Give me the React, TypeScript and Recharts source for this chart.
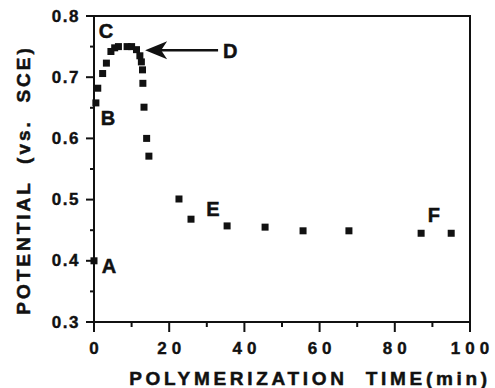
import {
  ScatterChart,
  Scatter,
  XAxis,
  YAxis,
  ReferenceArea,
  ReferenceLine,
  ReferenceDot,
} from "recharts";

const time = [
  0, 0.5, 1, 2.3, 3.3, 4.5, 5.5, 6.5, 8.8, 10, 11.3, 12.2, 12.6, 12.9, 13,
  13.3, 14, 14.6, 22.6, 25.8, 35.4, 45.5, 55.6, 67.8, 87, 95,
];
const potential = [
  0.4, 0.658, 0.682, 0.706, 0.723, 0.742, 0.748, 0.75, 0.75, 0.75, 0.745,
  0.735, 0.725, 0.712, 0.69, 0.651, 0.6, 0.571, 0.501, 0.468, 0.457, 0.455,
  0.449, 0.449, 0.445, 0.445,
];

const xTicks = [0, 10, 20, 30, 40, 50, 60, 70, 80, 90, 100];
const yTicks = [0.3, 0.35, 0.4, 0.45, 0.5, 0.55, 0.6, 0.65, 0.7, 0.75, 0.8];

const letters = ["A", "B", "C", "D", "E", "F"];
const letterTime = [4.0, 3.7, 3.2, 36.2, 31.6, 90.4];
const letterPotential = [0.391, 0.633, 0.775, 0.743, 0.485, 0.475];

// arrow pointing at D
const arrowFrom = { x: 33, y: 0.744 };
const arrowTo = { x: 13.6, y: 0.744 };

const data = time.map((t, i) => ({ t, v: potential[i] }));

const FONT = "'Liberation Sans', Arial, sans-serif";
const INK = "#111";

const isMajor = (v: number, step: number) =>
  Math.abs(Math.round(v / step) * step - v) < 1e-6;

function XTick(props: any) {
  const { x, y, payload } = props;
  const major = isMajor(payload.value, 20);
  return (
    <g>
      <line x1={x} x2={x} y1={y} y2={y + (major ? 10 : 5)} stroke={INK} strokeWidth={2} />
      {major && (
        <text
          x={x + 2.5}
          y={y + 26}
          textAnchor="middle"
          dominantBaseline="central"
          fontFamily={FONT}
          fontWeight="bold"
          fontSize={17}
          letterSpacing={5}
          fill={INK}
          stroke={INK}
          strokeWidth={0.4}
        >
          {payload.value}
        </text>
      )}
    </g>
  );
}

function YTick(props: any) {
  const { x, y, payload } = props;
  const major = isMajor(payload.value, 0.1);
  return (
    <g>
      <line x1={x - (major ? 8 : 4)} x2={x} y1={y} y2={y} stroke={INK} strokeWidth={2} />
      {major && (
        <text
          x={x - 14}
          y={y}
          textAnchor="end"
          dominantBaseline="central"
          fontFamily={FONT}
          fontWeight="bold"
          fontSize={17}
          letterSpacing={1.5}
          fill={INK}
          stroke={INK}
          strokeWidth={0.4}
        >
          {payload.value.toFixed(1)}
        </text>
      )}
    </g>
  );
}

const Square = (props: any) => {
  const { cx, cy } = props;
  return <rect x={cx - 3.5} y={cy - 3.5} width={7} height={7} fill={INK} />;
};

const Arrow = (props: any) => {
  const { x1, y1, x2, y2 } = props;
  const tipX = Math.min(x1, x2);
  const tailX = Math.max(x1, x2);
  const yy = (y1 + y2) / 2;
  return (
    <g>
      <line x1={tipX + 15} x2={tailX} y1={yy} y2={yy} stroke={INK} strokeWidth={2.5} />
      <polygon
        points={`${tipX},${yy} ${tipX + 22},${yy - 9} ${tipX + 16},${yy} ${tipX + 22},${yy + 9}`}
        fill={INK}
      />
    </g>
  );
};

export default function App() {
  return (
    <div style={{ position: "absolute", left: 0, top: 0, background: "#fff" }}>
      <ScatterChart
        width={495}
        height={388}
        margin={{ top: 16, right: 25, bottom: 0, left: 0 }}
      >
        <XAxis
          type="number"
          dataKey="t"
          domain={[0, 100]}
          ticks={xTicks}
          interval={0}
          height={66}
          tickSize={0}
          tickMargin={0}
          tickLine={false}
          axisLine={{ stroke: INK, strokeWidth: 2 }}
          tick={<XTick />}
          label={{
            content: ({ viewBox }: any) => (
              <text
                x={viewBox.x + viewBox.width / 2 + 28}
                y={378}
                textAnchor="middle"
                dominantBaseline="central"
                fontFamily={FONT}
                fontWeight="bold"
                fontSize={19}
                letterSpacing={3.7}
                fill={INK}
                stroke={INK}
                strokeWidth={0.5}
                style={{ whiteSpace: "pre" }}
              >
                {"POLYMERIZATION  TIME(min)"}
              </text>
            ),
          }}
        />
        <YAxis
          type="number"
          dataKey="v"
          domain={[0.3, 0.8]}
          ticks={yTicks}
          interval={0}
          width={94}
          tickSize={0}
          tickMargin={0}
          tickLine={false}
          axisLine={{ stroke: INK, strokeWidth: 2 }}
          tick={<YTick />}
          label={{
            content: () => (
              <text
                x={23}
                y={180}
                transform="rotate(-90 23 180)"
                textAnchor="middle"
                dominantBaseline="central"
                fontFamily={FONT}
                fontWeight="bold"
                fontSize={19}
                letterSpacing={3}
                fill={INK}
                stroke={INK}
                strokeWidth={0.5}
                style={{ whiteSpace: "pre" }}
              >
                {"POTENTIAL  (vs.  SCE)"}
              </text>
            ),
          }}
        />
        <ReferenceArea
          x1={0}
          x2={100}
          y1={0.3}
          y2={0.8}
          fill="none"
          stroke={INK}
          strokeWidth={2}
          ifOverflow="visible"
        />
        <ReferenceLine
          segment={[arrowFrom, arrowTo]}
          shape={<Arrow />}
          ifOverflow="visible"
        />
        {letters.map((l, i) => (
          <ReferenceDot
            key={l}
            x={letterTime[i]}
            y={letterPotential[i]}
            r={0}
            fill="none"
            stroke="none"
            label={{
              value: l,
              position: "center",
              fontFamily: FONT,
              fontWeight: "bold",
              fontSize: 20,
              fill: INK,
              stroke: INK,
              strokeWidth: 0.5,
            }}
          />
        ))}
        <Scatter data={data} shape={<Square />} isAnimationActive={false} />
      </ScatterChart>
    </div>
  );
}
